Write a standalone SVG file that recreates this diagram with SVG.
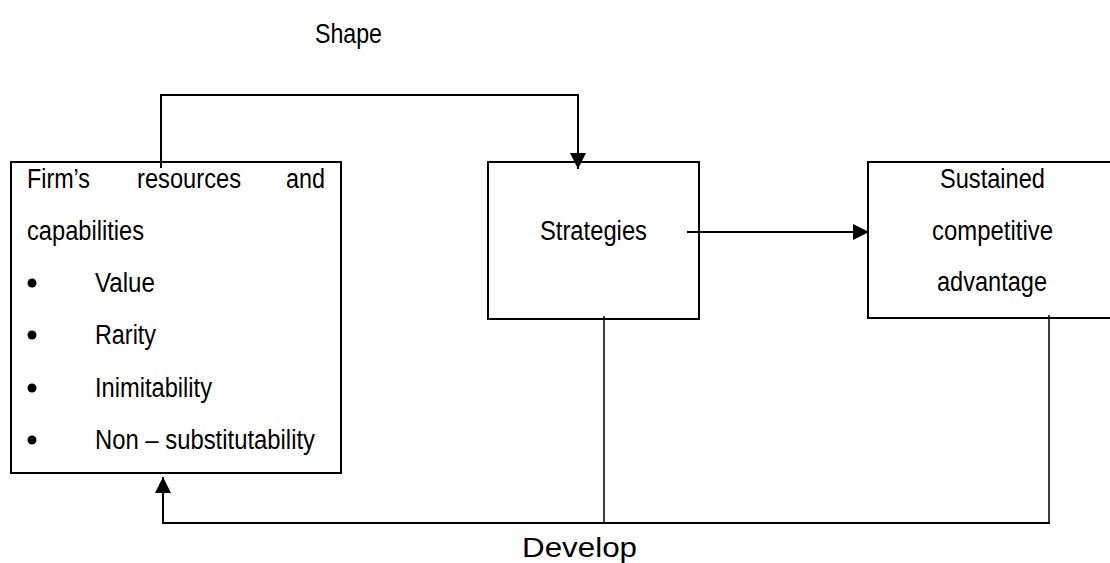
<svg xmlns="http://www.w3.org/2000/svg" width="1110" height="563" viewBox="0 0 1110 563">
<style>
  .box { fill: #fff; stroke: #000; stroke-width: 2; }
  .t { font-family: "Liberation Sans", Arial, sans-serif; font-size: 27px; fill: #000; }
  .c { fill: none; stroke: #000; stroke-width: 2; }
  .thin { fill: none; stroke: #000; stroke-width: 1.5; }
</style>
<defs>
  <marker id="ah" markerUnits="userSpaceOnUse" markerWidth="16" markerHeight="16" viewBox="0 0 16 16" refX="16" refY="8" orient="auto">
    <path d="M0,0 L16,8 L0,16 z" fill="#000"/>
  </marker>
</defs>
<rect width="1110" height="563" fill="#fff"/>

<g id="resources">
  <rect class="box" x="11" y="162" width="330" height="311"/>
  <text class="t" x="27" y="188" textLength="63" lengthAdjust="spacingAndGlyphs">Firm’s</text>
  <text class="t" x="137" y="188" textLength="104" lengthAdjust="spacingAndGlyphs">resources</text>
  <text class="t" x="286" y="188" textLength="39" lengthAdjust="spacingAndGlyphs">and</text>
  <text class="t" x="27" y="240" textLength="117" lengthAdjust="spacingAndGlyphs">capabilities</text>
  <circle cx="32" cy="283" r="4.5"/>
  <text class="t" x="95" y="292" textLength="60" lengthAdjust="spacingAndGlyphs">Value</text>
  <circle cx="32" cy="335" r="4.5"/>
  <text class="t" x="95" y="344" textLength="61" lengthAdjust="spacingAndGlyphs">Rarity</text>
  <circle cx="32" cy="388" r="4.5"/>
  <text class="t" x="95" y="397" textLength="117" lengthAdjust="spacingAndGlyphs">Inimitability</text>
  <circle cx="32" cy="440" r="4.5"/>
  <text class="t" x="95" y="449" textLength="220" lengthAdjust="spacingAndGlyphs">Non – substitutability</text>
</g>

<g id="strategies">
  <rect class="box" x="488" y="162" width="211" height="157"/>
  <text class="t" x="540" y="240" textLength="107" lengthAdjust="spacingAndGlyphs">Strategies</text>
</g>

<g id="advantage">
  <rect class="box" x="868" y="162" width="250" height="156"/>
  <text class="t" x="940" y="188" textLength="105" lengthAdjust="spacingAndGlyphs">Sustained</text>
  <text class="t" x="932" y="240" textLength="121" lengthAdjust="spacingAndGlyphs">competitive</text>
  <text class="t" x="937" y="291" textLength="110" lengthAdjust="spacingAndGlyphs">advantage</text>
</g>

<g id="connectors">
  <polyline class="c" points="161,168 161,95 578,95 578,169" marker-end="url(#ah)"/>
  <line class="c" x1="687" y1="232" x2="869" y2="232" marker-end="url(#ah)"/>
  <line class="thin" x1="604" y1="316" x2="604" y2="523"/>
  <line class="thin" x1="1049" y1="315" x2="1049" y2="523"/>
  <line class="c" x1="163" y1="523" x2="1050" y2="523"/>
  <line class="c" x1="163" y1="524" x2="163" y2="477" marker-end="url(#ah)"/>
</g>

<g id="labels">
  <text class="t" x="315" y="43" textLength="67" lengthAdjust="spacingAndGlyphs">Shape</text>
  <text class="t" x="522" y="557" textLength="115" lengthAdjust="spacingAndGlyphs">Develop</text>
</g>
</svg>
